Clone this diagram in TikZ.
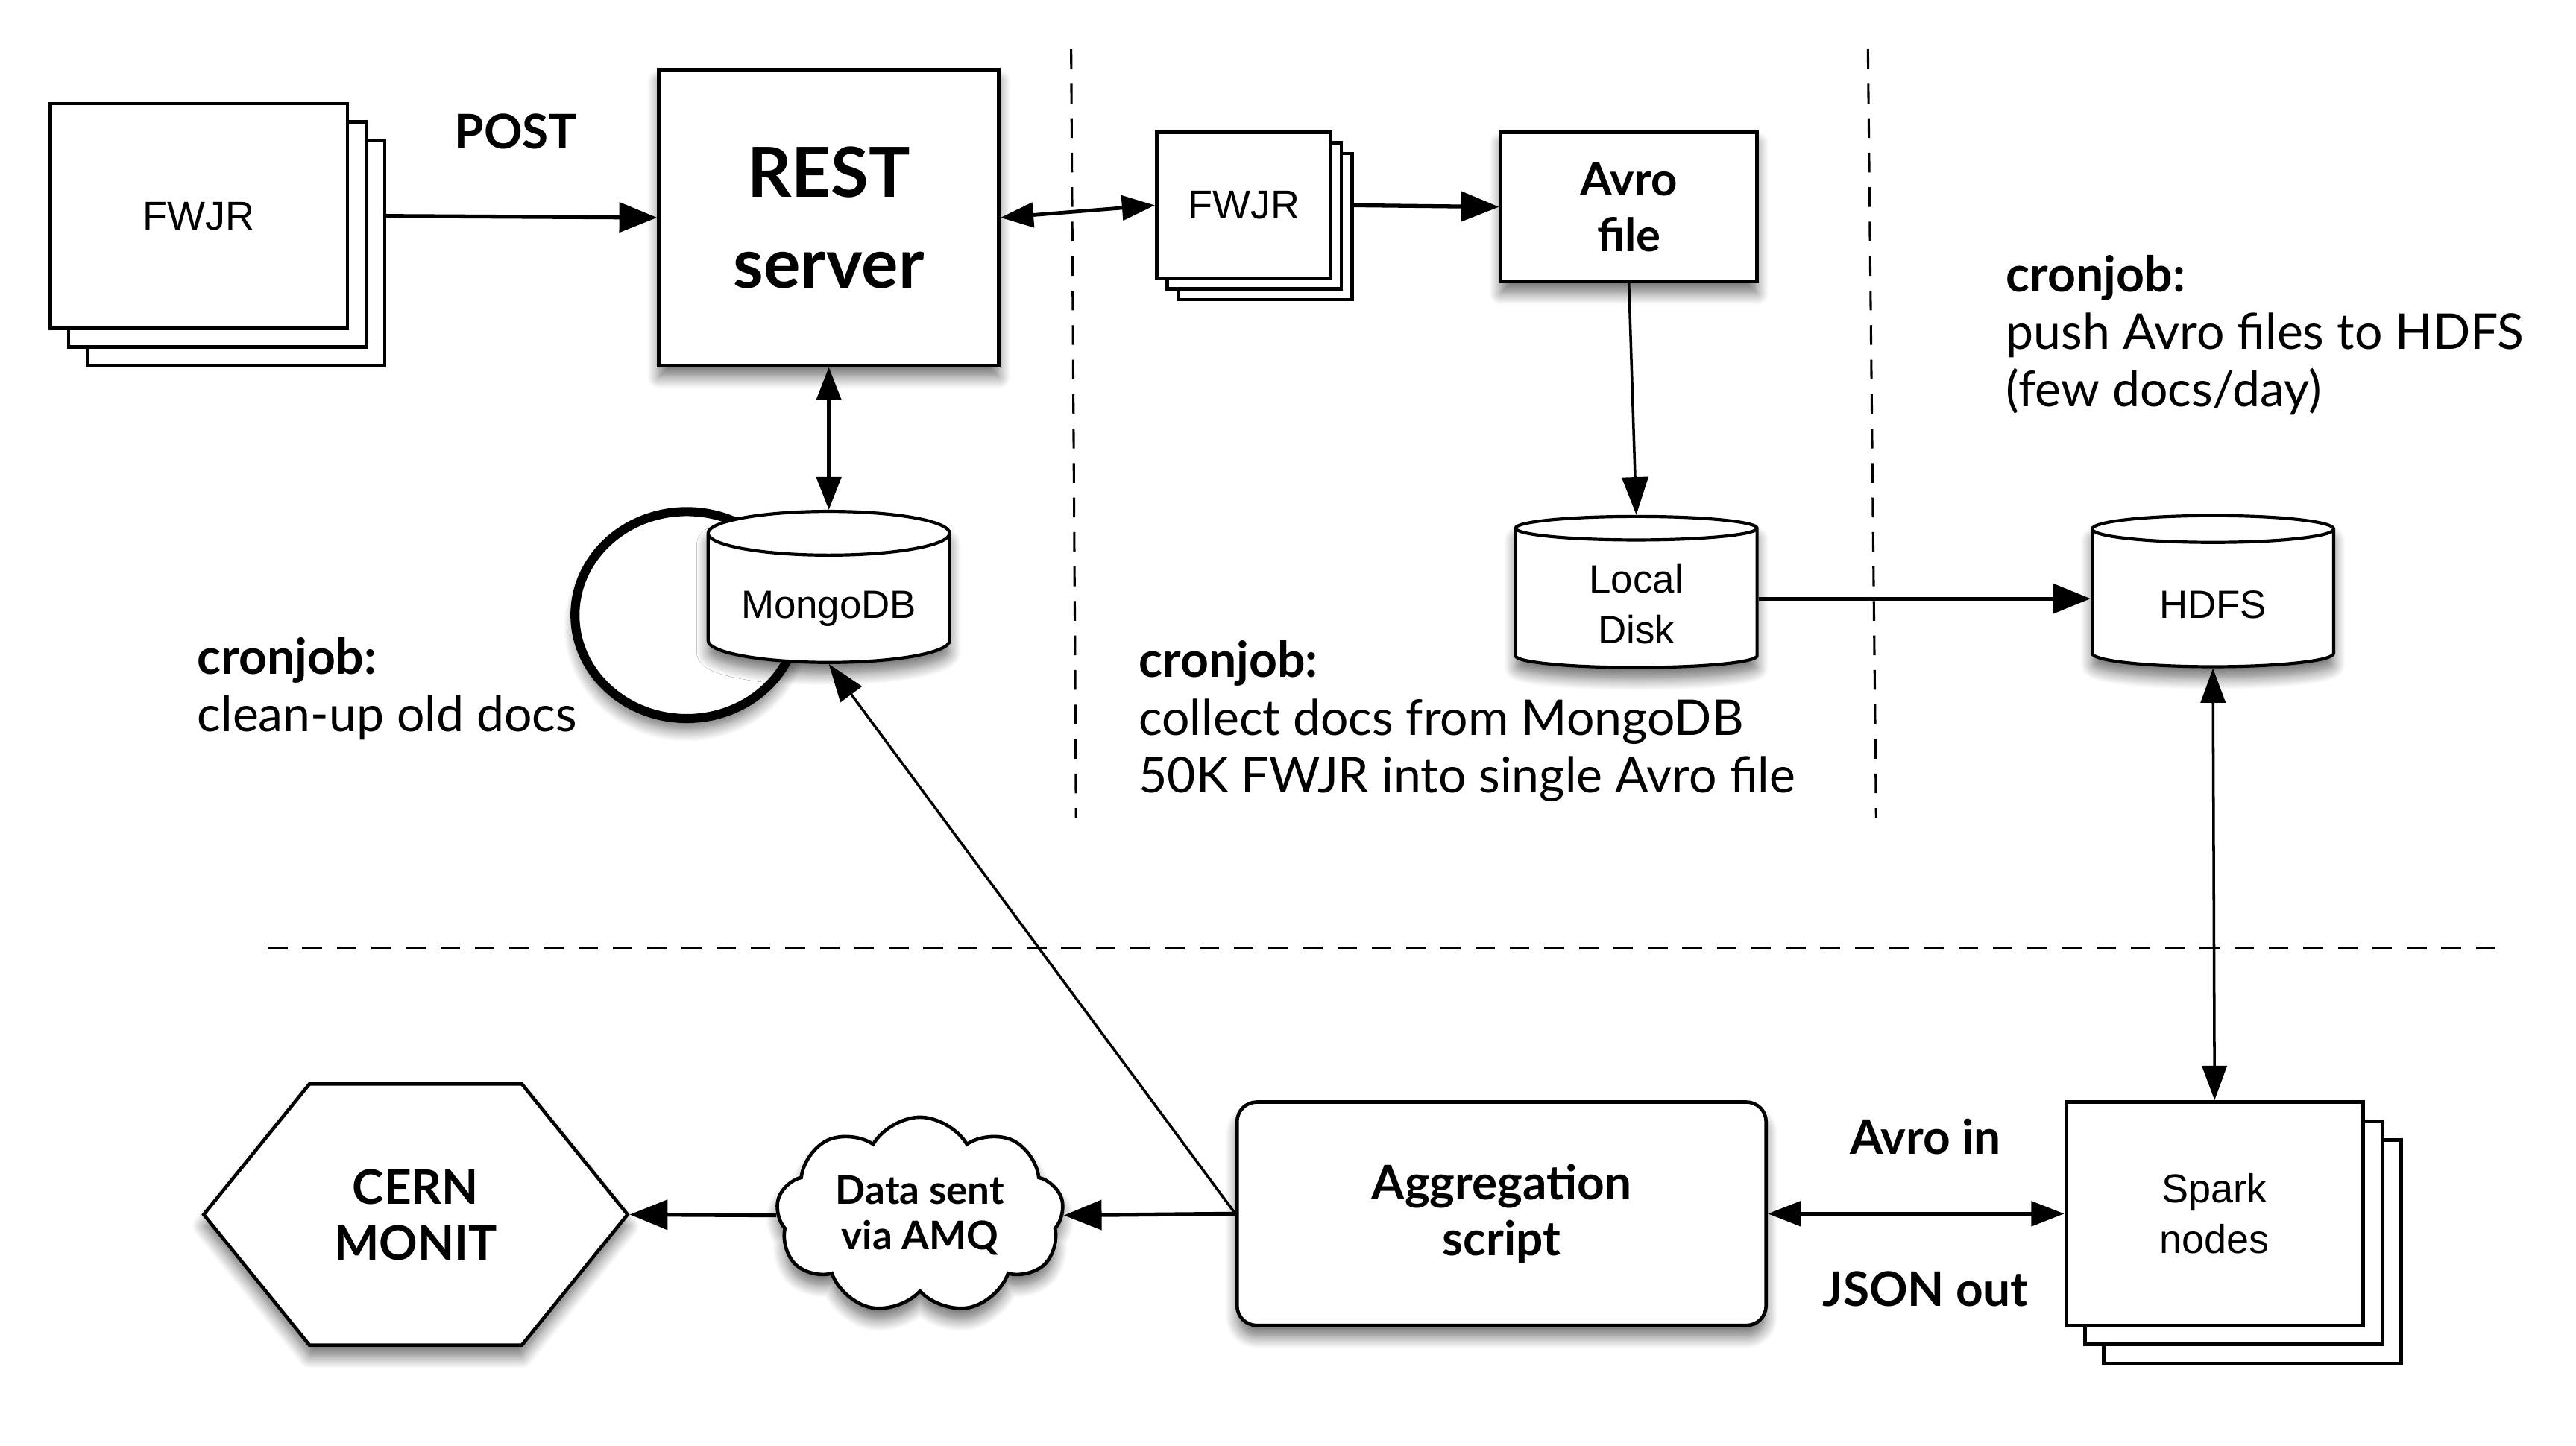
\documentclass[tikz,border=0pt]{standalone}
\usepackage{amsmath, amssymb}
\usepackage{fontspec}
\setmainfont{Lato}
\newfontfamily\helv{Liberation Sans}
\usetikzlibrary{arrows.meta,shapes.geometric,shapes.symbols,shadows,shadows.blur}

\newcommand\lowtext[1]{\raisebox{-12pt}[0pt][0pt]{\begin{tabular}{@{}c@{}}#1\end{tabular}}}

\tikzset{
  box/.style={draw, line width=2.1pt, fill=white, inner sep=0pt, align=center},
  shade/.style={blur shadow={shadow xshift=0pt, shadow yshift=-7pt, shadow blur radius=7pt,
    shadow blur steps=10, shadow opacity=55}},
  page stack/.style={box, double copy shadow={shadow xshift=#1, shadow yshift=-#1}},
  store/.style={cylinder, shape border rotate=90, aspect=.25, draw, line width=1.9pt,
    fill=white, inner sep=0pt, align=center, minimum width=147pt, minimum height=92pt,
    font=\helv\fontsize{24}{31}\selectfont, shade},
  plain label/.style={font=\helv\fontsize{24.5}{31}\selectfont},
  bold label/.style={font=\bfseries\fontsize{29}{34}\selectfont, align=center},
  note/.style={anchor=north west, inner sep=0pt, align=left, font=\fontsize{30}{35}\selectfont},
  sep/.style={line width=1.4pt, dash pattern=on 12pt off 9pt},
  arr/.style={line width=2.4pt, -{Triangle[length=23pt,width=18pt]}},
  arr2/.style={line width=2.2pt, {Triangle[length=20pt,width=15pt]}-{Triangle[length=20pt,width=15pt]}},
  arr thin/.style={line width=1.6pt, -{Triangle[length=23pt,width=16pt]}},
  arr2 thin/.style={line width=1.6pt, {Triangle[length=21pt,width=15pt]}-{Triangle[length=21pt,width=15pt]}},
}

\begin{document}
\begin{tikzpicture}[x=1pt,y=1pt,yscale=-1,xscale=1]
\useasboundingbox (0,0) rectangle (1568,880);

%Shape: Stack [id:fwjrL]
\node[page stack=11.3pt, plain label, minimum width=181pt, minimum height=137pt] (fwjrL) at (121,131.5) {FWJR};
%Shape: Rect [id:rest]
\node[box, shade, minimum width=207pt, minimum height=180pt, font=\bfseries\fontsize{42}{55}\selectfont] (rest) at (504.5,132.5) {REST\\server};
%Shape: Stack [id:fwjrM]
\node[page stack=6.5pt, plain label, minimum width=106pt, minimum height=89pt] (fwjrM) at (757,125) {FWJR};
%Shape: Rect [id:avro]
\node[box, shade, minimum width=156pt, minimum height=91pt, font=\bfseries\fontsize{28}{34}\selectfont] (avro) at (991.5,126) {Avro\\file};

%Shape: Cylinders
\node[store] (disk) at (996,364.5) {\lowtext{Local\\Disk}};
\node[store] (hdfs) at (1347,364.5) {\lowtext{HDFS}};
%Shape: Circle [id:cleanup]
\node[ellipse, draw, line width=5.5pt, fill=white, minimum width=136pt, minimum height=126pt, shade] (cleanup) at (418,374.5) {};
\node[store] (mongo) at (504.5,364.5) {\lowtext{MongoDB}};

%Shape: Hexagon [id:monit]
\node[signal, signal to=west and east, signal pointer angle=102, draw, line width=2.1pt, fill=white,
  inner sep=0pt, minimum width=258pt, minimum height=159pt, bold label, shade] (monit) at (253,739.5) {CERN\\MONIT};
%Shape: Cloud [id:amq]
\node[cloud, cloud puffs=9, cloud puff arc=120, aspect=1.5, draw, line width=2.1pt, fill=white,
  inner sep=0pt, minimum width=175pt, minimum height=112pt, align=center,
  font=\bfseries\fontsize{24}{28}\selectfont, shade] (amq) at (560,740) {Data sent\\via AMQ};
%Rounded Rect [id:agg]
\node[box, shade, rounded corners=12pt, minimum width=322pt, minimum height=136pt, bold label] (agg) at (914,739) {Aggregation\\script};
%Shape: Stack [id:spark]
\node[page stack=11.5pt, minimum width=181pt, minimum height=136pt, font=\helv\fontsize{24.5}{31}\selectfont] (spark) at (1348,739) {Spark\\nodes};

%Dashed Lines
\draw[sep] (652,30) -- (655,498);
\draw[sep] (1137,30) -- (1142,498);
\draw[sep] (163,577) -- (1520,577);

%Straight Lines
\draw[arr] ([xshift=22.6pt]fwjrL.east) -- (rest.west);
\draw[arr2] (rest.east) -- (fwjrM.west);
\draw[arr] ([xshift=13pt]fwjrM.east) -- (avro.west);
\draw[arr thin] (avro.south) -- (disk.north);
\draw[arr] (disk.east) -- (hdfs.west);
\draw[arr2] (rest.south) -- (mongo.north);
\draw[arr thin] (agg.west) -- (mongo.south);
\draw[arr2 thin] (hdfs.south) -- (spark.north);
\draw[arr2] (agg.east) -- (spark.west);
\draw[arr] (agg.west) -- (amq.east);
\draw[arr] (amq.west) -- (monit.east);

% Text Node
\node[bold label] (post) at (314,80) {POST};
% Text Node
\node[bold label] (avroin) at (1172,692) {Avro in};
% Text Node
\node[bold label] (jsonout) at (1172,785) {JSON out};
% Text Node
\node[note] (noteClean) at (120,388) {\textbf{cronjob:}\\clean-up old docs};
% Text Node
\node[note] (noteCollect) at (693,390) {\textbf{cronjob:}\\collect docs from MongoDB\\50K FWJR into single Avro file};
% Text Node
\node[note] (notePush) at (1221,155) {\textbf{cronjob:}\\push Avro files to HDFS\\(few docs/day)};

\end{tikzpicture}
\end{document}
